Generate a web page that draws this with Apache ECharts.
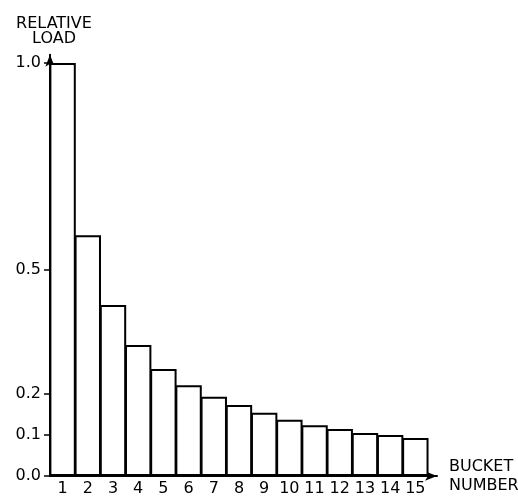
<!DOCTYPE html>
<html>
<head>
<meta charset="utf-8">
<script src="https://cdn.jsdelivr.net/npm/echarts@6/dist/echarts.min.js"></script>
<style>
    html, body { margin: 0; padding: 0; background: #fff; }
    #chart { width: 518px; height: 496px; }
</style>
</head>
<body>
<div id="chart"></div>
<script>
var buckets = [1, 2, 3, 4, 5, 6, 7, 8, 9, 10, 11, 12, 13, 14, 15];
var loads = [1.0, 0.583, 0.414, 0.317, 0.259, 0.220, 0.192, 0.172, 0.153, 0.136, 0.123, 0.114, 0.104, 0.099, 0.092];
var yTicks = [0, 0.1, 0.2, 0.5, 1.0];

(function () {
    var myChart = echarts.init(document.getElementById('chart'));
    var font = 'DejaVu Sans';

    var seriesData = [];
    for (var i = 0; i < buckets.length; i++) {
        seriesData.push([buckets[i], loads[i]]);
    }

    var option = {
        backgroundColor: '#fff',
        animation: false,
        grid: {
            left: 50,
            right: 81,
            top: 54.7,
            bottom: 20,
            containLabel: false,
            outerBoundsMode: 'none'
        },
        xAxis: {
            type: 'value',
            min: 0.5,
            max: 15.86,
            name: 'BUCKET\nNUMBER',
            nameLocation: 'end',
            nameGap: 12,
            nameTextStyle: { fontFamily: font, fontSize: 16, color: '#000', lineHeight: 19, align: 'left', verticalAlign: 'middle' },
            splitLine: { show: false },
            axisTick: { show: false },
            axisLine: {
                show: true,
                symbol: ['none', 'arrow'],
                symbolSize: [7, 12],
                lineStyle: { color: '#000', width: 2 }
            },
            axisLabel: {
                customValues: buckets,
                margin: 5,
                fontFamily: font,
                fontSize: 16,
                color: '#000'
            }
        },
        yAxis: {
            type: 'value',
            min: 0,
            max: 1.02,
            name: 'RELATIVE\nLOAD',
            nameLocation: 'end',
            nameGap: 8,
            nameTextStyle: { fontFamily: font, fontSize: 16, color: '#000', lineHeight: 15, padding: [0, 0, 0, 8] },
            splitLine: { show: false },
            axisLine: {
                show: true,
                symbol: ['none', 'arrow'],
                symbolSize: [7, 12],
                lineStyle: { color: '#000', width: 2 }
            },
            axisTick: {
                show: true,
                customValues: yTicks,
                length: 6,
                lineStyle: { color: '#000', width: 1.5 }
            },
            axisLabel: {
                customValues: yTicks,
                margin: 9,
                fontFamily: font,
                fontSize: 16,
                color: '#000',
                formatter: function (v) { return v.toFixed(1); }
            }
        },
        series: [
            {
                type: 'bar',
                data: seriesData,
                barWidth: 26.4,
                itemStyle: {
                    color: '#fff',
                    borderColor: '#000',
                    borderWidth: 2
                }
            }
        ]
    };
    myChart.setOption(option);
})();
</script>
</body>
</html>
